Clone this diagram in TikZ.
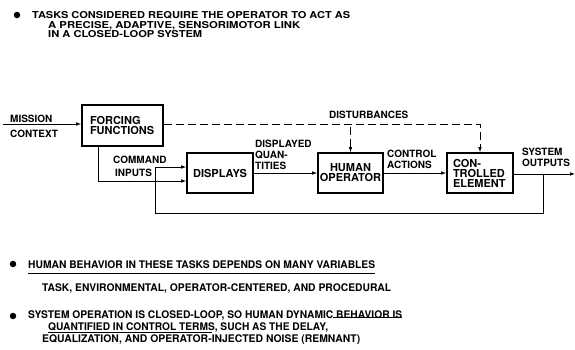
\documentclass[tikz,border=0pt]{standalone}
\usepackage{fontspec}
\setmainfont{TeX Gyre Heros}
\usetikzlibrary{arrows.meta}
\usepackage{graphicx}
% set a line of text at a given natural width (in pt), keeping its height
\newcommand\fitto[2]{\sbox0{#2}\pgfmathsetmacro\fitr{#1/\the\wd0}\scalebox{\fitr}[1]{\usebox0}}
\begin{document}
\begin{tikzpicture}[x=1pt,y=-1pt,
  blk/.style={draw,line width=1.6pt,inner sep=0pt,font=\bfseries\fontsize{11}{12}\selectfont},
  lbl/.style={anchor=base west,inner sep=0pt,font=\bfseries\fontsize{10}{11}\selectfont},
  txt/.style={anchor=base west,inner sep=0pt},
  wire/.style={line width=0.8pt},
  arr/.style={wire,-{Latex[length=5pt,width=3.6pt]}},
  dsh/.style={arr,dash pattern=on 8pt off 4pt},
  dot/.style={circle,fill,inner sep=0pt,minimum size=6.5pt}]
\useasboundingbox (0,0) rectangle (575,349);

% ---- heading statement
\node[dot] (d0) at (17,15) {};
\node[txt,font=\bfseries\fontsize{9.5}{10}\selectfont] (t1) at (32,18) {\fitto{318}{TASKS CONSIDERED REQUIRE THE OPERATOR TO ACT AS}};
\node[txt,font=\bfseries\fontsize{9.5}{10}\selectfont] (t2) at (48,28) {\fitto{252}{A PRECISE, ADAPTIVE, SENSORIMOTOR LINK}};
\node[txt,font=\bfseries\fontsize{9.5}{10}\selectfont] (t3) at (48,37) {\fitto{154}{IN A CLOSED-LOOP SYSTEM}};

% ---- blocks
\node[blk,minimum width=81pt,minimum height=41pt,text width=65pt,align=left] (ff) at (122.5,125.5) {FORCING\\[-2pt]FUNCTIONS};
\node[blk,minimum width=66pt,minimum height=40pt,align=center] (dp) at (220,173) {DISPLAYS};
\node[blk,minimum width=65pt,minimum height=40pt,align=center] (ho) at (350.5,173) {HUMAN\\[-2pt]OPERATOR};
\node[blk,minimum width=66pt,minimum height=40pt,text width=54pt,align=left] (ce) at (480,173) {CON-\\[-2pt]TROLLED\\[-2pt]ELEMENT};

% ---- connector end points
\coordinate (mi) at (3,124);
\coordinate (so) at (575,174);
\coordinate (fb) at (543,174);
\coordinate (fl) at (155,213);

% ---- connectors
\draw[arr] (mi) -- (mi -| ff.west);
\draw[arr] (ff.south -| 98,0) |- ([yshift=-8pt]dp.west);
\draw[arr] (fb) -- (fb |- fl) -- (fl) |- ([yshift=6pt]dp.west);
\draw[arr] (dp.east) -- (ho.west);
\draw[arr] (ho.east) -- (ce.west);
\draw[arr] (ce.east |- so) -- (so);
\draw[dsh] ([yshift=1.5pt]ff.east) -| (ce.north);
\draw[dsh] (ho.north |- 0,127) -- (ho.north);

% ---- connector labels
\node[lbl] (l1) at (10,122) {MISSION};
\node[lbl] (l2) at (10,137) {CONTEXT};
\node[lbl] (l3) at (113,163) {COMMAND};
\node[lbl] (l4) at (115,176) {INPUTS};
\node[lbl] (l5) at (255,147) {DISPLAYED};
\node[lbl] (l6) at (255,158.5) {QUAN-};
\node[lbl] (l7) at (255,169) {TITIES};
\node[lbl] (l8) at (329,118) {DISTURBANCES};
\node[lbl] (l9) at (387,157) {CONTROL};
\node[lbl] (l10) at (387,168) {ACTIONS};
\node[lbl] (l11) at (522,155) {SYSTEM};
\node[lbl] (l12) at (522,166) {OUTPUTS};

% ---- closing statements
\node[dot] (d1) at (13,264) {};
\node[txt,font=\bfseries\fontsize{10.5}{12}\selectfont] (b1) at (28,268) {\fitto{347}{HUMAN BEHAVIOR IN THESE TASKS DEPENDS ON MANY VARIABLES}};
\draw[wire] ([yshift=-5pt]b1.base west) -- ([yshift=-5pt]b1.base east);
\node[txt,font=\bfseries\fontsize{10.5}{12}\selectfont] (b2) at (42,291) {\fitto{349}{TASK, ENVIRONMENTAL, OPERATOR-CENTERED, AND PROCEDURAL}};
\node[dot] (d2) at (13,316) {};
\node[txt,font=\bfseries\fontsize{10.5}{12}\selectfont] (b3) at (28,318) {\fitto{374}{SYSTEM OPERATION IS CLOSED-LOOP, SO HUMAN DYNAMIC BEHAVIOR IS}};
\node[txt,font=\bfseries\fontsize{10.5}{12}\selectfont] (b4) at (48,330) {\fitto{280}{QUANTIFIED IN CONTROL TERMS, SUCH AS THE DELAY,}};
\node[txt,font=\bfseries\fontsize{10.5}{12}\selectfont] (b5) at (42,342) {\fitto{318}{EQUALIZATION, AND OPERATOR-INJECTED NOISE (REMNANT)}};
\draw[wire] (333,317) -- (b3.base east |- 0,317);
\draw[wire] ([yshift=-2.5pt]b4.base west) -- +(164,0);
\end{tikzpicture}
\end{document}
